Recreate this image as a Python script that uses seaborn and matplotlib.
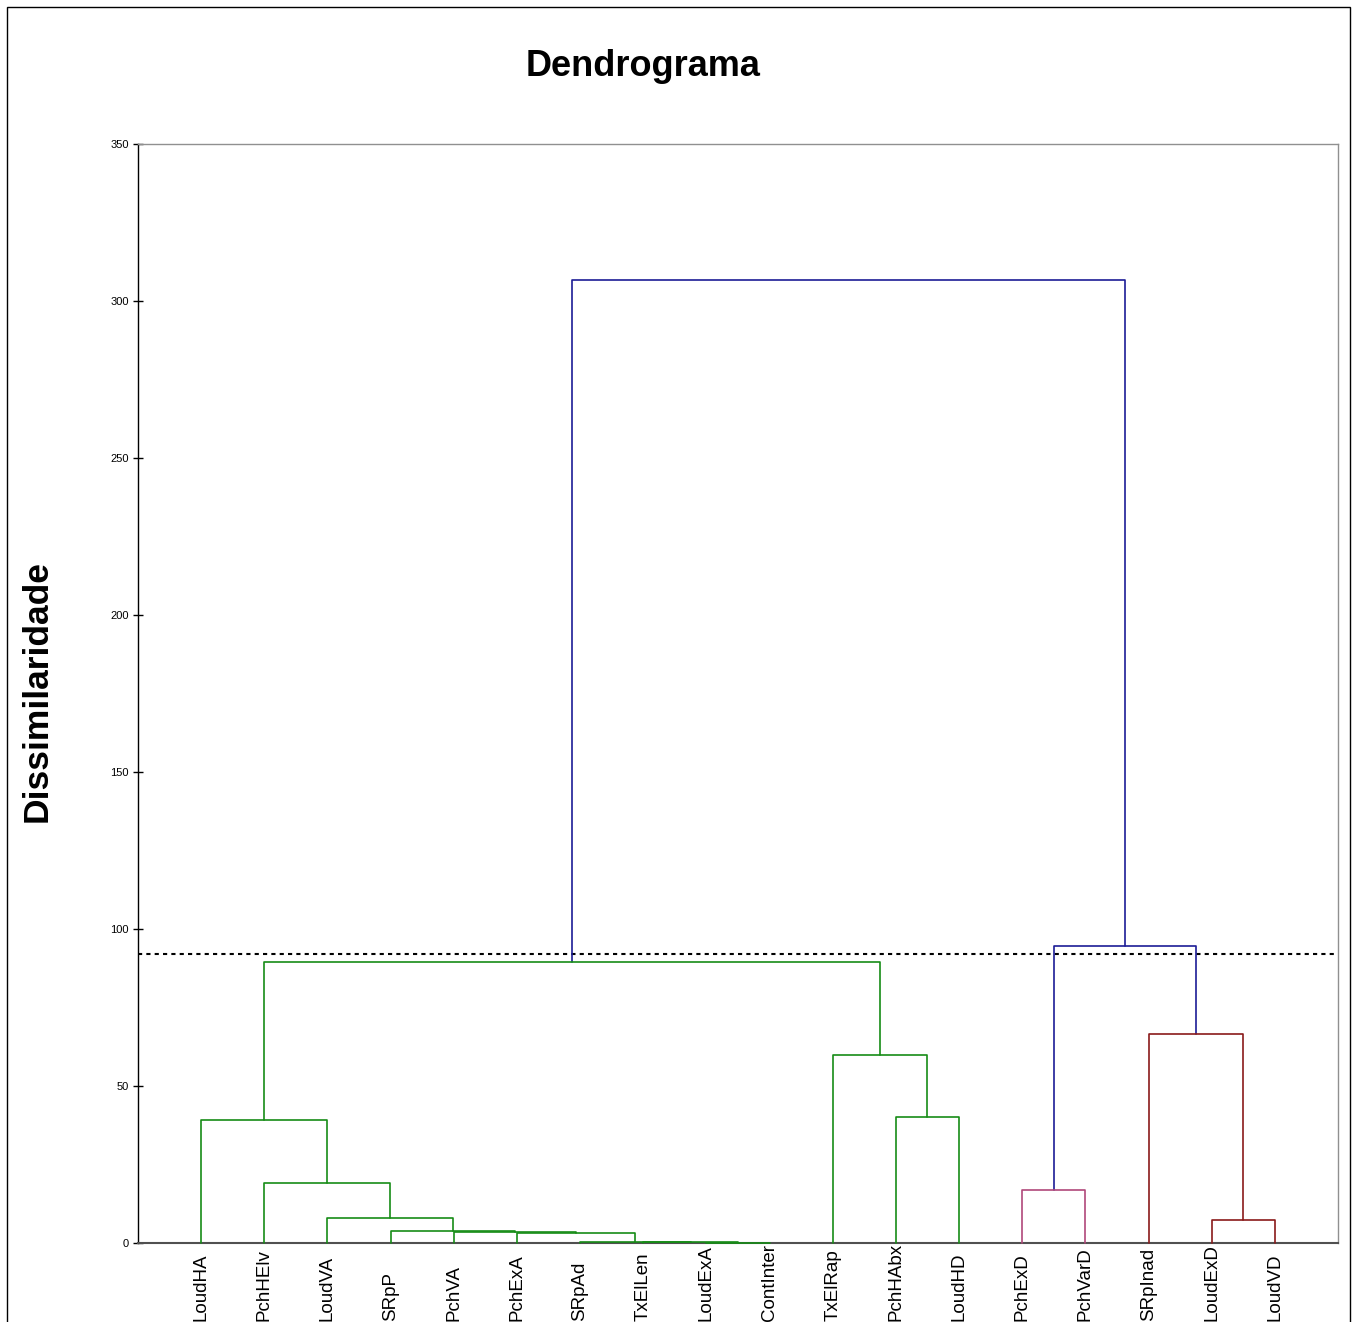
import numpy as np
import pandas as pd
import seaborn as sns
import matplotlib
matplotlib.use("Agg")
import matplotlib.pyplot as plt
from matplotlib.patches import Rectangle
from matplotlib.transforms import blended_transform_factory

# leaves, left to right
leaves = ["LoudHA", "PchHElv", "LoudVA", "SRpP", "PchVA", "PchExA", "SRpAd",
          "TxElLen", "LoudExA", "ContInter", "TxElRap", "PchHAbx", "LoudHD",
          "PchExD", "PchVarD", "SRpInad", "LoudExD", "LoudVD"]

# merges: child a, child b, height  (new cluster ids start at 18)
merge_a = [8, 7, 6, 5, 4, 3, 2, 16, 13, 1, 0, 11, 10, 15, 28, 26, 32]
merge_b = [9, 18, 19, 20, 21, 22, 23, 17, 14, 24, 27, 12, 29, 25, 30, 31, 33]
merge_h = [0.1, 0.2, 0.3, 3.2, 3.5, 3.7, 8.0, 7.3, 16.9, 19.1, 39.2, 40.1,
           59.9, 66.6, 89.5, 94.6, 306.7]

cut_level = 92.0
group_colors = ["#168c16", "#b0487a", "#8a1a1a"]  # left to right
above_color = "#1c1c96"

# build the link shapes
n = len(leaves)
xpos = {i: i + 1.0 for i in range(n)}
hpos = {i: 0.0 for i in range(n)}
parent = {}
for k, (a, b, h) in enumerate(zip(merge_a, merge_b, merge_h)):
    cid = n + k
    xpos[cid] = (xpos[a] + xpos[b]) / 2
    hpos[cid] = h
    parent[a] = cid
    parent[b] = cid

# colour group = highest cluster still under the cut level
roots = [n + k for k, h in enumerate(merge_h)
         if h < cut_level and merge_h[parent[n + k] - n] > cut_level]
roots = sorted(roots, key=lambda c: xpos[c])
root_of = {}
for r_i, r in enumerate(roots):
    stack = [r]
    while stack:
        c = stack.pop()
        root_of[c] = r_i
        if c >= n:
            stack += [merge_a[c - n], merge_b[c - n]]

rows = []
for k, (a, b, h) in enumerate(zip(merge_a, merge_b, merge_h)):
    cid = n + k
    grp = root_of.get(cid, -1)
    pts = [(xpos[a], hpos[a]), (xpos[a], h), (xpos[b], h), (xpos[b], hpos[b])]
    for i, (x, y) in enumerate(pts):
        rows.append({"link": k, "order": i, "x": x, "y": y, "grp": grp})
links = pd.DataFrame(rows)

palette = {-1: above_color}
for i, c in enumerate(group_colors):
    palette[i] = c

sns.set_style("white")
plt.rcParams["font.family"] = ["Liberation Sans", "DejaVu Sans"]
plt.rcParams["text.color"] = "black"
plt.rcParams["ytick.color"] = "black"

fig = plt.figure(figsize=(13.56, 13.22), dpi=100)
ax = fig.add_axes([138 / 1356, 1 - 1243 / 1322, 1200 / 1356, 1099 / 1322])

sns.lineplot(data=links, x="x", y="y", units="link", hue="grp", estimator=None,
             sort=False, palette=palette, legend=False, linewidth=1.2,
             zorder=3, clip_on=False, ax=ax)

ax.axhline(cut_level, color="black", linestyle=(0, (2, 2)), linewidth=1.5)

ax.set_xlim(0, n + 1)
ax.set_ylim(0, 350)
ax.set_yticks(range(0, 351, 50))
ax.tick_params(axis="y", direction="inout", length=7, width=1, labelsize=8,
               left=True, pad=3, color="black", labelcolor="black")
ax.set_xticks([])
ax.set_xlabel("")
ax.set_ylabel("")

for side in ["top", "right"]:
    ax.spines[side].set_color("#909090")
    ax.spines[side].set_linewidth(1)
ax.spines["bottom"].set_color("#505050")
ax.spines["bottom"].set_linewidth(1.5)
ax.spines["left"].set_color("black")
ax.spines["left"].set_linewidth(1)

# leaf labels sit on the bottom edge of the figure
label_tr = blended_transform_factory(ax.transData, fig.transFigure)
for i, name in enumerate(leaves):
    ax.text(xpos[i], 0.001, name, transform=label_tr, rotation=90,
            ha="center", va="bottom", fontsize=13.5, color="black")

fig.text(643 / 1356, 1 - 66 / 1322, "Dendrograma", fontsize=26,
         fontweight="bold", ha="center", va="center")
fig.text(37 / 1356, 1 - 691 / 1322, "Dissimilaridade", fontsize=25.5,
         fontweight="bold", rotation=90, ha="center", va="center")

fig.patches.append(Rectangle((7 / 1356, -0.01), 1343 / 1356, 1.01 - 7 / 1322,
                             transform=fig.transFigure, fill=False,
                             edgecolor="black", linewidth=1))

fig.savefig("out.png", dpi=100)
